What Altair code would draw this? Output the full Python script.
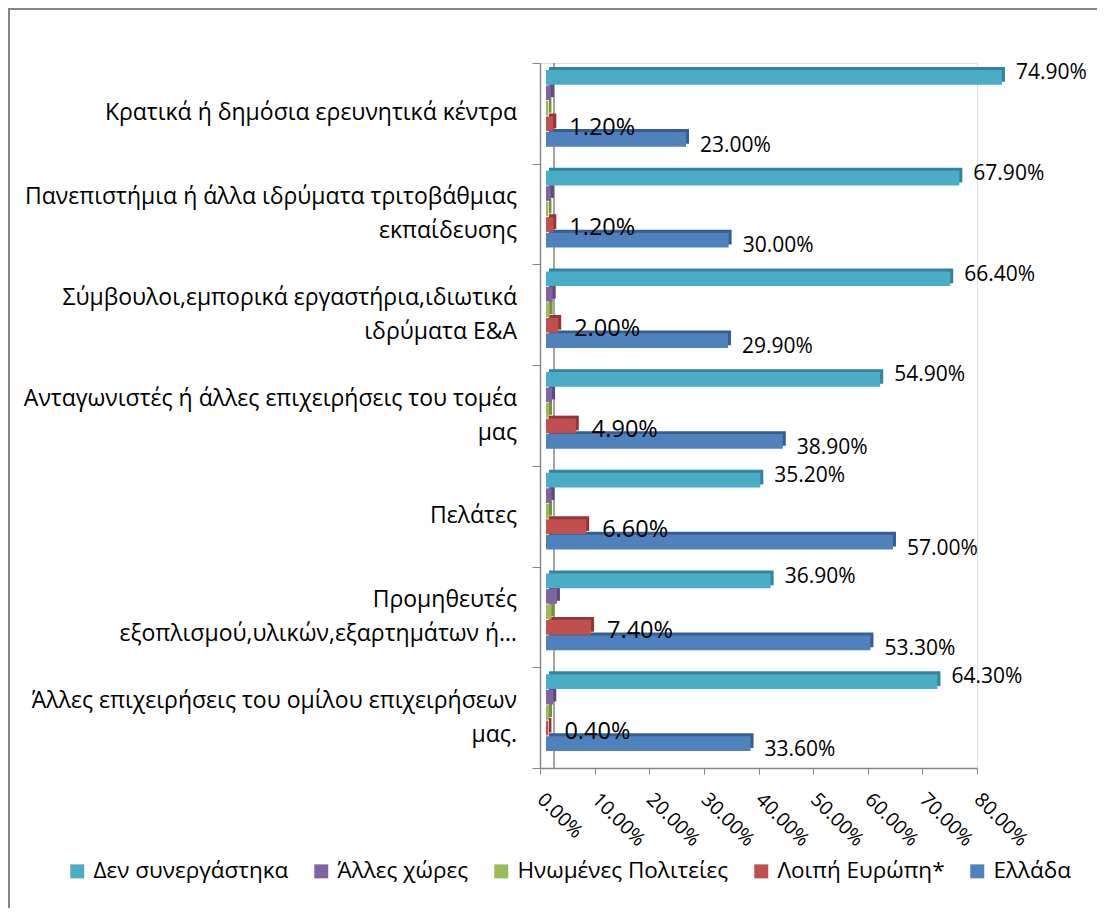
import altair as alt
import pandas as pd

categories = [
    "Κρατικά ή δημόσια ερευνητικά κέντρα",
    "Πανεπιστήμια ή άλλα ιδρύματα τριτοβάθμιας\nεκπαίδευσης",
    "Σύμβουλοι,εμπορικά εργαστήρια,ιδιωτικά\nιδρύματα Ε&Α",
    "Ανταγωνιστές ή άλλες επιχειρήσεις του τομέα\nμας",
    "Πελάτες",
    "Προμηθευτές\nεξοπλισμού,υλικών,εξαρτημάτων ή…",
    "Άλλες επιχειρήσεις του ομίλου επιχειρήσεων\nμας.",
]
series = ["Δεν συνεργάστηκα", "Άλλες χώρες", "Ηνωμένες Πολιτείες", "Λοιπή Ευρώπη*", "Ελλάδα"]
den_synergastika = [74.9, 67.9, 66.4, 54.9, 35.2, 36.9, 64.3]
alles_xores = [0.8, 0.8, 1.1, 1.0, 0.9, 1.8, 1.2]
ipa = [0.4, 0.4, 0.6, 0.5, 0.5, 0.9, 0.5]
loipi_evropi = [1.2, 1.2, 2.0, 4.9, 6.6, 7.4, 0.4]
ellada = [23.0, 30.0, 29.9, 38.9, 57.0, 53.3, 33.6]
x_ticks = [0, 10, 20, 30, 40, 50, 60, 70, 80]

colors = ["#4BACC6", "#8064A2", "#9BBB59", "#C0504D", "#4F81BD"]
dark_colors = ["#31859C", "#5F4A7A", "#76923C", "#943634", "#365F91"]
FONT = "Open Sans"
GREY = "#868686"
W, H = 437, 705
LINE_H = 34
HALF_BAND = H / len(categories) / 2

values_by_series = [den_synergastika, alles_xores, ipa, loipi_evropi, ellada]
rows = []
for ci, cat in enumerate(categories):
    for si, s in enumerate(series):
        v = values_by_series[si][ci]
        rows.append({"category": cat, "series": s, "value": v, "label": f"{v:.2f}%"})
df = pd.DataFrame(rows)
cat_df = pd.DataFrame({"category": categories})
ticks_df = pd.DataFrame({"v": x_ticks})
one = pd.DataFrame({"a": [0]})

y_enc = alt.Y(
    "category:N",
    sort=categories,
    scale=alt.Scale(domain=categories, paddingInner=0, paddingOuter=0),
    axis=alt.Axis(
        title=None, tickBand="extent", tickSize=8, labels=False,
        domainColor=GREY, tickColor=GREY, grid=False, domainWidth=1.5,
    ),
)


def yoff(align):
    return alt.YOffset(
        "series:N",
        sort=series,
        scale=alt.Scale(domain=series, paddingInner=0.05, paddingOuter=0.775, align=align),
    )


x_bar = alt.X("value:Q", scale=alt.Scale(domain=[0, 80], range=[6, 493], nice=False), axis=None)

shadow = alt.Chart(df).mark_bar(xOffset=3, x2Offset=4).encode(
    x=x_bar, y=y_enc, yOffset=yoff(0.167),
    color=alt.Color("series:N", scale=alt.Scale(domain=series, range=dark_colors), legend=None),
)

front = alt.Chart(df).mark_bar().encode(
    x=x_bar, y=y_enc, yOffset=yoff(0.29),
    color=alt.Color(
        "series:N",
        scale=alt.Scale(domain=series, range=colors),
        legend=alt.Legend(
            orient="none", legendX=-474, legendY=797, direction="horizontal", columns=5,
            title=None, symbolType="square", symbolSize=196, symbolStrokeWidth=0,
            labelFontSize=22.5, labelFont=FONT, labelColor="black", labelLimit=400,
            columnPadding=21, labelOffset=5,
        ),
    ),
)

labels_main = alt.Chart(df).transform_filter(
    alt.FieldOneOfPredicate(field="series", oneOf=[series[0], series[4]])
).mark_text(align="left", baseline="middle", dx=14, dy=2, fontSize=21, font=FONT, color="black").encode(
    x=x_bar, y=y_enc, yOffset=yoff(0.29), text="label:N"
)

labels_red = alt.Chart(df).transform_filter(
    alt.FieldEqualPredicate(field="series", equal=series[3])
).mark_text(align="left", baseline="middle", dx=16, dy=2, fontSize=23.5, font=FONT, color="black").encode(
    x=x_bar, y=y_enc, yOffset=yoff(0.29), text="label:N"
)

cat_labels = alt.Chart(cat_df).transform_calculate(
    off=f"{HALF_BAND} - (length(split(datum.category, '\\n')) - 1) * {LINE_H / 2}"
).mark_text(
    align="right", baseline="middle", fontSize=23, font=FONT, color="black",
    lineBreak="\n", lineHeight=LINE_H,
).encode(
    y=y_enc,
    x=alt.value(-23),
    yOffset=alt.YOffset("off:Q", scale=None),
    text="category:N",
)

inner = alt.layer(shadow, front, labels_main, labels_red, cat_labels).resolve_scale(
    yOffset="independent", color="independent"
)

axis_layer = alt.Chart(ticks_df).mark_point(opacity=0).encode(
    x=alt.X(
        "v:Q",
        scale=alt.Scale(domain=[0, 80], nice=False),
        axis=alt.Axis(
            orient="bottom",
            values=x_ticks, labelExpr="format(datum.value, '.2f') + '%'",
            labelAngle=45, labelAlign="left", labelBaseline="middle",
            labelFontSize=19.5, labelPadding=22, tickSize=6, domainColor=GREY,
            tickColor=GREY, grid=False, title=None, labelColor="black",
            labelFont=FONT, labelOverlap=False, labelFlush=False, domainWidth=1.5,
        ),
    )
)

wall = alt.Chart(one).mark_rule(color=GREY, strokeWidth=1.5).encode(
    x=alt.value(14), y=alt.value(0), y2=alt.value(H)
)

frame = alt.Chart(one).mark_rect(fill="white", fillOpacity=0, stroke=GREY, strokeWidth=2).encode(
    x=alt.value(-531), y=alt.value(-54), x2=alt.value(W + 300), y2=alt.value(H + 300)
)

chart = alt.layer(frame, wall, axis_layer, inner).resolve_scale(x="independent").properties(
    width=W,
    height=H,
    padding={"left": 532, "top": 55, "right": 120, "bottom": 140},
    autosize=alt.AutoSizeParams(type="none"),
).configure_view(stroke=None).configure(font=FONT)

chart.save("out.html", embed_options={"renderer": "svg", "actions": False})
